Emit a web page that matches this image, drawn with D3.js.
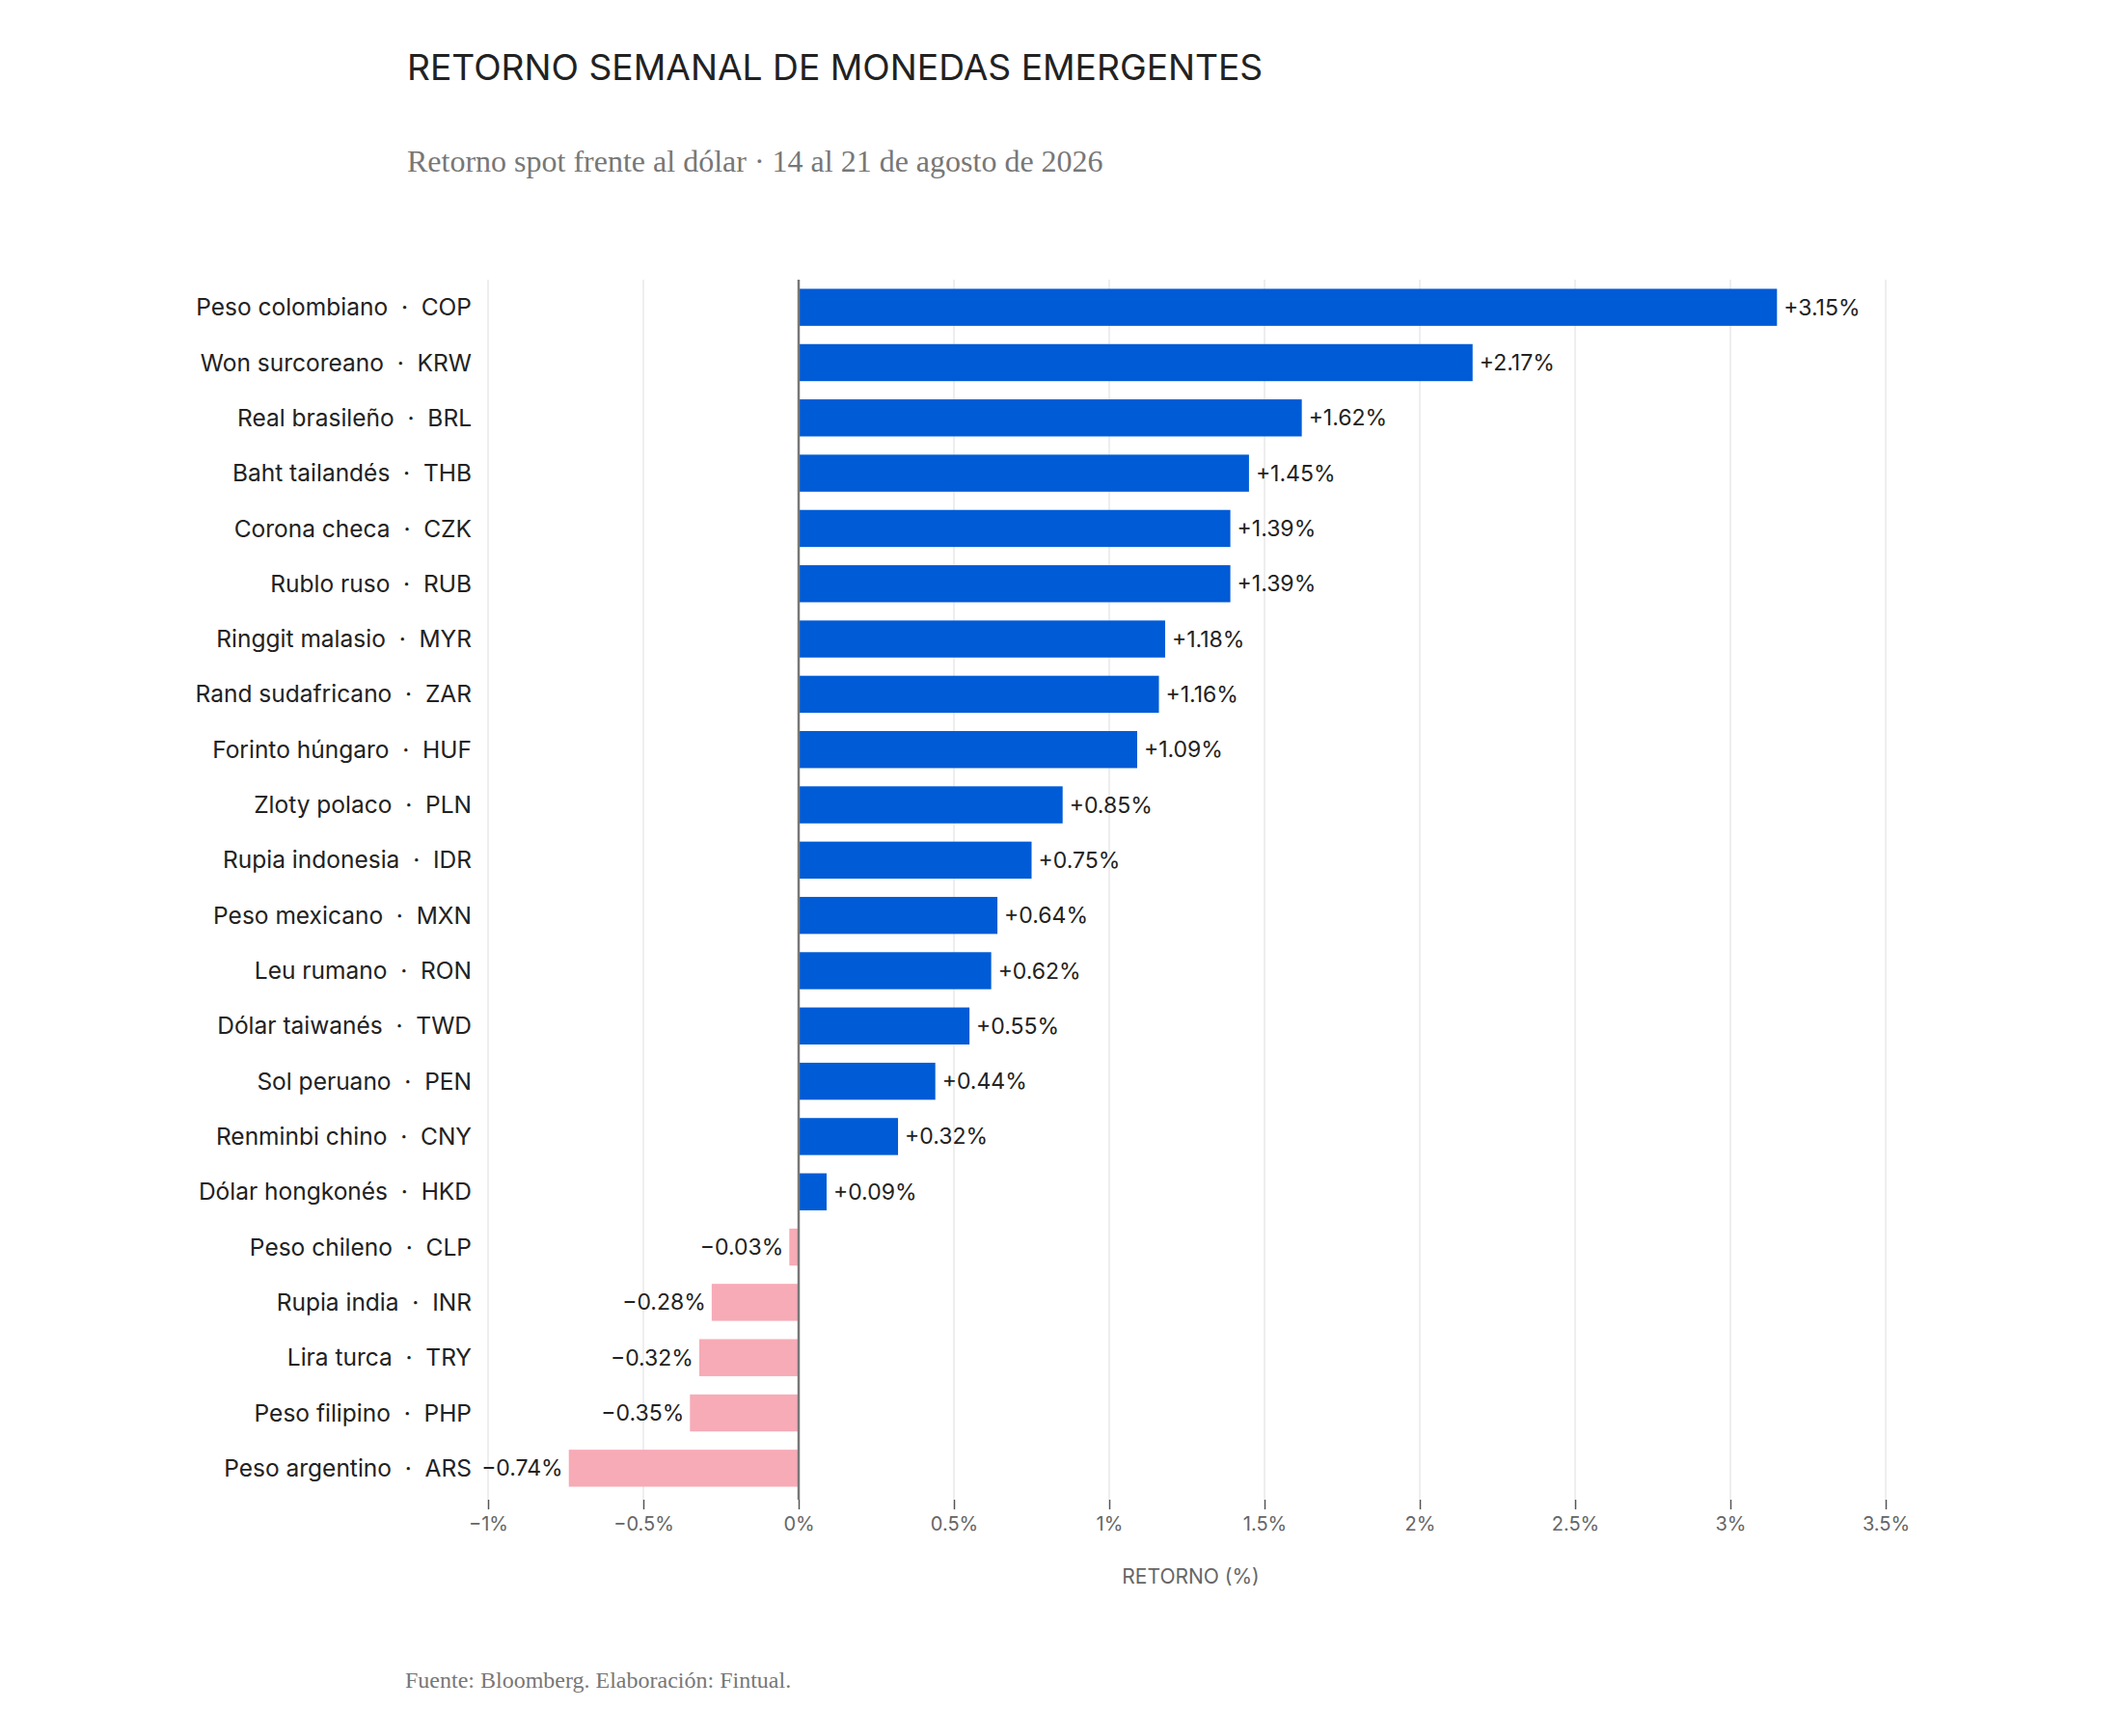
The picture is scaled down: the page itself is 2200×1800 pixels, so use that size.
<!DOCTYPE html>
<html>
<head>
<meta charset="utf-8">
<script src="https://cdn.jsdelivr.net/npm/d3@7"></script>
<style>
  body { margin: 0; background: #fff; }
  svg text { white-space: pre; }
</style>
</head>
<body>
<svg id="chart"></svg>
<script>
const names = ["Peso colombiano", "Won surcoreano", "Real brasileño", "Baht tailandés", "Corona checa",
    "Rublo ruso", "Ringgit malasio", "Rand sudafricano", "Forinto húngaro", "Zloty polaco",
    "Rupia indonesia", "Peso mexicano", "Leu rumano", "Dólar taiwanés", "Sol peruano",
    "Renminbi chino", "Dólar hongkonés", "Peso chileno", "Rupia india", "Lira turca",
    "Peso filipino", "Peso argentino"];
const codes = ["COP", "KRW", "BRL", "THB", "CZK", "RUB", "MYR", "ZAR", "HUF", "PLN", "IDR",
    "MXN", "RON", "TWD", "PEN", "CNY", "HKD", "CLP", "INR", "TRY", "PHP", "ARS"];
const returns = [3.15, 2.17, 1.62, 1.45, 1.39, 1.39, 1.18, 1.16, 1.09, 0.85, 0.75,
    0.64, 0.62, 0.55, 0.44, 0.32, 0.09, -0.03, -0.28, -0.32, -0.35, -0.74];
const xTicks = [-1, -0.5, 0, 0.5, 1, 1.5, 2, 2.5, 3, 3.5];

const width = 2200, height = 1800;
const sans = "Inter, 'Open Sans', sans-serif";
const serif = "'Liberation Serif', 'DejaVu Serif', serif";

const svg = d3.select("#chart")
    .attr("width", width)
    .attr("height", height)
    .style("background", "#fff");

const x = d3.scaleLinear().domain([-1, 3.5]).range([506, 1955]);
const y = d3.scaleBand().domain(codes).range([290, 1551]).paddingInner(0.33).paddingOuter(0.165);

const fmtTick = d => (d < 0 ? "\u2212" : "") + Math.abs(d) + "%";
const fmtVal = d => (d < 0 ? "\u2212" : "+") + Math.abs(d).toFixed(2) + "%";

// Titles
svg.append("text")
    .attr("x", 422).attr("y", 83)
    .attr("font-family", sans).attr("font-size", 37.2)
    .attr("fill", "#222")
    .text("RETORNO SEMANAL DE MONEDAS EMERGENTES");

svg.append("text")
    .attr("x", 422).attr("y", 178)
    .attr("font-family", serif).attr("font-size", 32)
    .attr("fill", "#777")
    .text("Retorno spot frente al dólar · 14 al 21 de agosto de 2026");

// Grid
svg.append("g").selectAll("line")
    .data(xTicks.filter(d => d !== 0))
    .join("line")
    .attr("x1", d => x(d)).attr("x2", d => x(d))
    .attr("y1", 290).attr("y2", 1555)
    .attr("stroke", "#e8e8e8").attr("stroke-width", 1.5);

// X axis
const xAxis = svg.append("g")
    .attr("transform", "translate(0,1555)")
    .call(d3.axisBottom(x).tickValues(xTicks).tickFormat(fmtTick).tickSize(10).tickPadding(8));
xAxis.select(".domain").remove();
xAxis.selectAll(".tick line").attr("stroke", "#555").attr("stroke-width", 1.5);
xAxis.selectAll(".tick text")
    .attr("font-family", sans).attr("font-size", 20).attr("fill", "#666");

svg.append("text")
    .attr("x", (x(-1) + x(3.5)) / 2 + 4).attr("y", 1642)
    .attr("text-anchor", "middle")
    .attr("font-family", sans).attr("font-size", 21)
    .attr("fill", "#666")
    .text("RETORNO (%)");

// Bars
svg.append("g").selectAll("rect")
    .data(returns)
    .join("rect")
    .attr("x", d => x(Math.min(0, d)))
    .attr("y", (d, i) => y(codes[i]))
    .attr("width", d => Math.abs(x(d) - x(0)))
    .attr("height", y.bandwidth())
    .attr("fill", d => d >= 0 ? "#005bd6" : "#f6abb6");

// Zero line
svg.append("line")
    .attr("x1", x(0)).attr("x2", x(0))
    .attr("y1", 290).attr("y2", 1555)
    .attr("stroke", "#777").attr("stroke-width", 2.5);

// Value labels
svg.append("g").selectAll("text")
    .data(returns)
    .join("text")
    .attr("x", d => d >= 0 ? x(d) + 7 : x(d) - 6)
    .attr("y", (d, i) => y(codes[i]) + y.bandwidth() / 2)
    .attr("dy", "0.35em")
    .attr("text-anchor", d => d >= 0 ? "start" : "end")
    .attr("font-family", sans).attr("font-size", 23)
    .attr("fill", "#222")
    .text(fmtVal);

// Category labels
svg.append("g").selectAll("text")
    .data(codes)
    .join("text")
    .attr("x", 489)
    .attr("y", d => y(d) + y.bandwidth() / 2)
    .attr("dy", "0.35em")
    .attr("text-anchor", "end")
    .attr("font-family", sans).attr("font-size", 24.5)
    .attr("fill", "#222")
    .text((d, i) => names[i] + "  ·  " + d);

// Source
svg.append("text")
    .attr("x", 420).attr("y", 1750)
    .attr("font-family", serif).attr("font-size", 24)
    .attr("fill", "#777")
    .text("Fuente: Bloomberg. Elaboración: Fintual.");
</script>
</body>
</html>
